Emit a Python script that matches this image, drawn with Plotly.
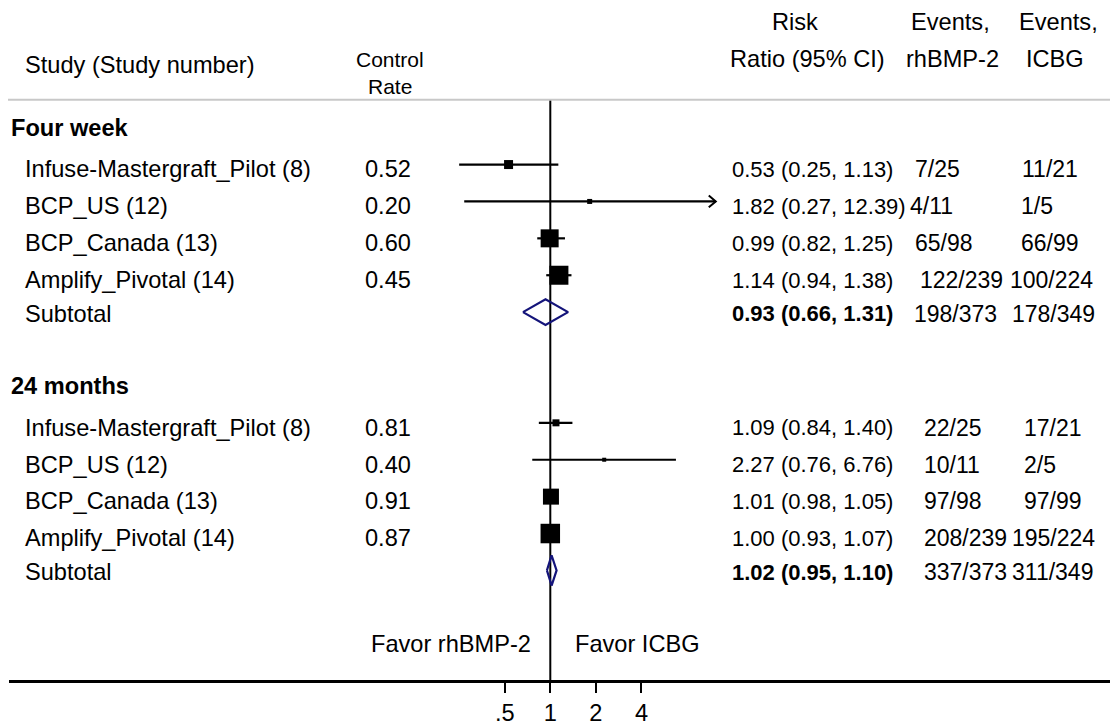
import math
import plotly.graph_objects as go

# ---- data -------------------------------------------------------------
group_names = ["Four week", "24 months"]
study_names = ["Infuse-Mastergraft_Pilot (8)", "BCP_US (12)",
               "BCP_Canada (13)", "Amplify_Pivotal (14)"]

control_4w = [0.52, 0.20, 0.60, 0.45]
rr_4w = [0.53, 1.82, 0.99, 1.14]
lo_4w = [0.25, 0.27, 0.82, 0.94]
hi_4w = [1.13, 12.39, 1.25, 1.38]
ev_bmp_4w = ["7/25", "4/11", "65/98", "122/239"]
ev_icbg_4w = ["11/21", "1/5", "66/99", "100/224"]
sub_4w = [0.93, 0.66, 1.31]
sub_ev_4w = ["198/373", "178/349"]

control_24m = [0.81, 0.40, 0.91, 0.87]
rr_24m = [1.09, 2.27, 1.01, 1.00]
lo_24m = [0.84, 0.76, 0.98, 0.93]
hi_24m = [1.40, 6.76, 1.05, 1.07]
ev_bmp_24m = ["22/25", "10/11", "97/98", "208/239"]
ev_icbg_24m = ["17/21", "2/5", "97/99", "195/224"]
sub_24m = [1.02, 0.95, 1.10]
sub_ev_24m = ["337/373", "311/349"]

tick_vals = [0.5, 1, 2, 4]
tick_text = [".5", "1", "2", "4"]

# ---- layout helpers ---------------------------------------------------
W, H = 1110, 726
FONT = "Liberation Sans, Arial, sans-serif"
FS = 23.6        # study / header text
FS_RR = 22.0     # risk-ratio column
FS_EV = 23.0     # events columns
FS_CTRL = 21.0   # "Control Rate" header
NAVY = "#14147a"

# square sizes (study weights) and diamond half-heights, in px / rows
box_px_4w = [9, 5, 18, 19]
box_px_24m = [7, 4, 16, 19.5]
diamond_half = [0.35, 0.41]

# left edge (px) of the two events columns, per row incl. subtotal
bmp_x = [[913, 908, 913, 918, 912], [922, 922, 922, 922, 922]]
icbg_x = [[1020, 1019, 1019, 1008, 1010], [1022, 1022, 1022, 1010, 1010]]

groups = [
    dict(name=group_names[0], ctrl=control_4w, rr=rr_4w, lo=lo_4w, hi=hi_4w,
         bmp=ev_bmp_4w, icbg=ev_icbg_4w, sub=sub_4w, sub_ev=sub_ev_4w,
         box=box_px_4w, row0=0),
    dict(name=group_names[1], ctrl=control_24m, rr=rr_24m, lo=lo_24m, hi=hi_24m,
         bmp=ev_bmp_24m, icbg=ev_icbg_24m, sub=sub_24m, sub_ev=sub_ev_24m,
         box=box_px_24m, row0=7),
]

TXT_DY = 0.13     # text nudge relative to the plotted row
AXIS_ROW = 15

fig = go.Figure()
ann = []


def px(x):
    return x / W


def label(x, y, text, anchor="left", bold=False, size=FS):
    ann.append(dict(xref="paper", yref="y", x=px(x), y=y,
                    text=f"<b>{text}</b>" if bold else text,
                    showarrow=False, xanchor=anchor, yanchor="middle",
                    font=dict(family=FONT, size=size, color="black")))


def fmt(e, l, h):
    return f"{e:.2f} ({l:.2f}, {h:.2f})"


# header
label(23, -1.70, "Study (Study number)")
label(390, -1.84, "Control", "center", size=FS_CTRL)
label(390, -1.11, "Rate", "center", size=FS_CTRL)
label(795, -2.85, "Risk", "center")
label(807, -1.87, "Ratio (95% CI)", "center")
label(950, -2.85, "Events,", "center")
label(952, -1.87, "rhBMP-2", "center")
label(1058, -2.85, "Events,", "center")
label(1055, -1.87, "ICBG", "center")

# reference line at RR = 1
fig.add_trace(go.Scatter(x=[1, 1], y=[-0.757, AXIS_ROW], mode="lines",
                         line=dict(color="black", width=2), hoverinfo="skip"))

for gi, g in enumerate(groups):
    r0 = g["row0"]
    label(9, r0, g["name"], bold=True)
    rows = [r0 + 1 + i for i in range(len(study_names))]

    # confidence intervals
    cx, cy = [], []
    for r, l, h in zip(rows, g["lo"], g["hi"]):
        cx += [l, h, None]
        cy += [r, r, None]
    fig.add_trace(go.Scatter(x=cx, y=cy, mode="lines",
                             line=dict(color="black", width=2.2),
                             hoverinfo="skip"))

    # open arrowhead where the interval runs past 10
    for r, h in zip(rows, g["hi"]):
        if h > 10:
            back = 2 ** (-7 / 45.57)
            fig.add_trace(go.Scatter(x=[h * back, h, h * back],
                                     y=[r - 0.16, r, r + 0.16], mode="lines",
                                     line=dict(color="black", width=2),
                                     hoverinfo="skip"))

    # point estimates
    fig.add_trace(go.Scatter(x=g["rr"], y=rows, mode="markers",
                             marker=dict(symbol="square", size=g["box"],
                                         color="black", opacity=1,
                                         line=dict(width=0)),
                             hoverinfo="skip"))

    # subtotal diamond
    e, l, h = g["sub"]
    sr = r0 + 5
    d = diamond_half[gi]
    fig.add_trace(go.Scatter(x=[l, e, h, e, l], y=[sr, sr - d, sr, sr + d, sr],
                             mode="lines", line=dict(color=NAVY, width=2.2),
                             hoverinfo="skip"))

    # text columns
    for i, r in enumerate(rows):
        ty = r + TXT_DY
        label(23, ty, study_names[i])
        label(363, ty, f"{g['ctrl'][i]:.2f}")
        label(730, ty, fmt(g["rr"][i], g["lo"][i], g["hi"][i]), size=FS_RR)
        label(bmp_x[gi][i], ty, g["bmp"][i], size=FS_EV)
        label(icbg_x[gi][i], ty, g["icbg"][i], size=FS_EV)
    ty = sr + 0.05
    label(23, ty, "Subtotal")
    label(730, ty, fmt(e, l, h), bold=True, size=FS_RR)
    label(bmp_x[gi][4], ty, g["sub_ev"][0], size=FS_EV)
    label(icbg_x[gi][4], ty, g["sub_ev"][1], size=FS_EV)

# favour labels
label(533, 14.0, "Favor rhBMP-2", "right")
label(573, 14.0, "Favor ICBG", "left")

# header rule
shapes = [dict(type="line", xref="paper", yref="y", x0=px(8), x1=1,
               y0=-0.757, y1=-0.757, line=dict(color="#c8c8c8", width=2))]

# axis geometry: RR 1 at 550.3 px, 45.57 px per doubling
px_per_dec = 45.57 / math.log10(2)
x_left = 9
r0 = -(550.3 - x_left) / px_per_dec
r1 = r0 + (W - x_left) / px_per_dec

fig.update_layout(
    width=W, height=H, margin=dict(l=0, r=0, t=0, b=0),
    paper_bgcolor="white", plot_bgcolor="white", showlegend=False,
    annotations=ann, shapes=shapes,
    xaxis=dict(type="log", domain=[x_left / W, 1], range=[r0, r1],
               anchor="free", position=1 - 683 / H,
               showline=True, linecolor="black", linewidth=2.5,
               ticks="outside", ticklen=10, tickwidth=2, tickcolor="black",
               tickvals=tick_vals, ticktext=tick_text,
               tickfont=dict(family=FONT, size=FS, color="black"),
               showgrid=False, zeroline=False),
    yaxis=dict(domain=[0, 1], range=[(H - 128) / 37, -128 / 37],
               visible=False, showgrid=False, zeroline=False),
)

fig.write_html("out.html")
